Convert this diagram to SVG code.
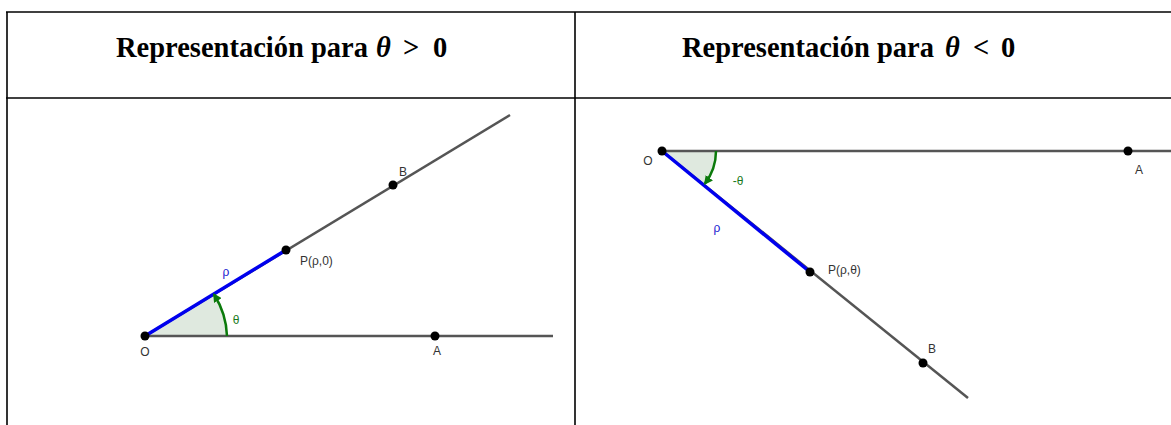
<svg xmlns="http://www.w3.org/2000/svg" width="1171" height="425" viewBox="0 0 1171 425">
<defs>
<style>
.tbl{stroke:#000;stroke-width:1.6;fill:none}
.hdr{font-family:"Liberation Serif",serif;font-weight:bold;font-size:28.5px;fill:#000}
.ray{stroke:#555;stroke-width:2.5;fill:none}
.rho{stroke:#0000ee;stroke-width:3.5;fill:none}
.arc{stroke:#0b7a0b;stroke-width:2.5;fill:none}
.sector{fill:#dfe9df;stroke:none}
.dot{fill:#000}
.lbl{font-family:"Liberation Sans",sans-serif;font-size:12px;fill:#333}
.lblb{font-family:"Liberation Sans",sans-serif;font-size:12px;fill:#1a1ad0}
.lblg{font-family:"Liberation Sans",sans-serif;font-size:12px;fill:#1a7a1a}
</style>
<marker id="ah" viewBox="0 0 10 10" refX="8" refY="5" markerWidth="3.6" markerHeight="3.6" orient="auto" markerUnits="strokeWidth">
<path d="M0,0 L10,5 L0,10 Z" fill="#0b7a0b"/>
</marker>
</defs>
<g id="table">
<line class="tbl" x1="6" y1="12" x2="1171" y2="12"/>
<line class="tbl" x1="6" y1="98" x2="1171" y2="98"/>
<line class="tbl" x1="7" y1="12" x2="7" y2="425"/>
<line class="tbl" x1="575" y1="12" x2="575" y2="425"/>
<text class="hdr" x="116" y="57">Representación para <tspan x="376" font-style="italic">θ</tspan><tspan x="403">&gt;</tspan><tspan x="433">0</tspan></text>
<text class="hdr" x="682" y="57">Representación para <tspan x="945" font-style="italic">θ</tspan><tspan x="973">&lt;</tspan><tspan x="1001">0</tspan></text>
</g>
<g id="connectors">
<path class="sector" d="M145,336 L227,336 A82,82 0 0 0 215.3,293.8 Z"/>
<line class="ray" x1="145" y1="336" x2="553" y2="336"/>
<line class="ray" x1="145" y1="336" x2="510" y2="115"/>
<line class="rho" x1="145" y1="336" x2="286" y2="250"/>
<path class="arc" d="M227,336 A82,82 0 0 0 214,294.5" marker-end="url(#ah)"/>
<path class="sector" d="M662,151 L716,151 A54,54 0 0 1 703.8,185.1 Z"/>
<line class="ray" x1="662" y1="151" x2="1171" y2="151"/>
<line class="ray" x1="662" y1="151" x2="968" y2="398"/>
<line class="rho" x1="662" y1="151" x2="810" y2="272"/>
<path class="arc" d="M716,151 A54,54 0 0 1 705,183.5" marker-end="url(#ah)"/>
</g>
<g id="O1"><circle class="dot" cx="145" cy="336" r="4.5"/><text class="lbl" x="145" y="356" text-anchor="middle">O</text></g>
<g id="A1"><circle class="dot" cx="435" cy="336" r="4.5"/><text class="lbl" x="437" y="355" text-anchor="middle">A</text></g>
<g id="P1"><circle class="dot" cx="286" cy="250" r="4.5"/><text class="lbl" x="300" y="265">P(ρ,0)</text></g>
<g id="B1"><circle class="dot" cx="393" cy="185" r="4.5"/><text class="lbl" x="403" y="176" text-anchor="middle">B</text></g>
<g id="rho1"><text class="lblb" x="226" y="276" text-anchor="middle">ρ</text></g>
<g id="theta1"><text class="lblg" x="236" y="324" text-anchor="middle">θ</text></g>
<g id="O2"><circle class="dot" cx="662" cy="151" r="4.5"/><text class="lbl" x="648" y="165" text-anchor="middle" font-size="13">O</text></g>
<g id="A2"><circle class="dot" cx="1128" cy="151" r="4.5"/><text class="lbl" x="1139" y="174" text-anchor="middle" font-size="13">A</text></g>
<g id="P2"><circle class="dot" cx="810" cy="272" r="4.5"/><text class="lbl" x="828" y="274" font-size="13">P(ρ,θ)</text></g>
<g id="B2"><circle class="dot" cx="923" cy="363" r="4.5"/><text class="lbl" x="932" y="353" text-anchor="middle" font-size="13">B</text></g>
<g id="rho2"><text class="lblb" x="717" y="232" text-anchor="middle" font-size="13">ρ</text></g>
<g id="theta2"><text class="lblg" x="738" y="185" text-anchor="middle" font-size="13">-θ</text></g>
</svg>
